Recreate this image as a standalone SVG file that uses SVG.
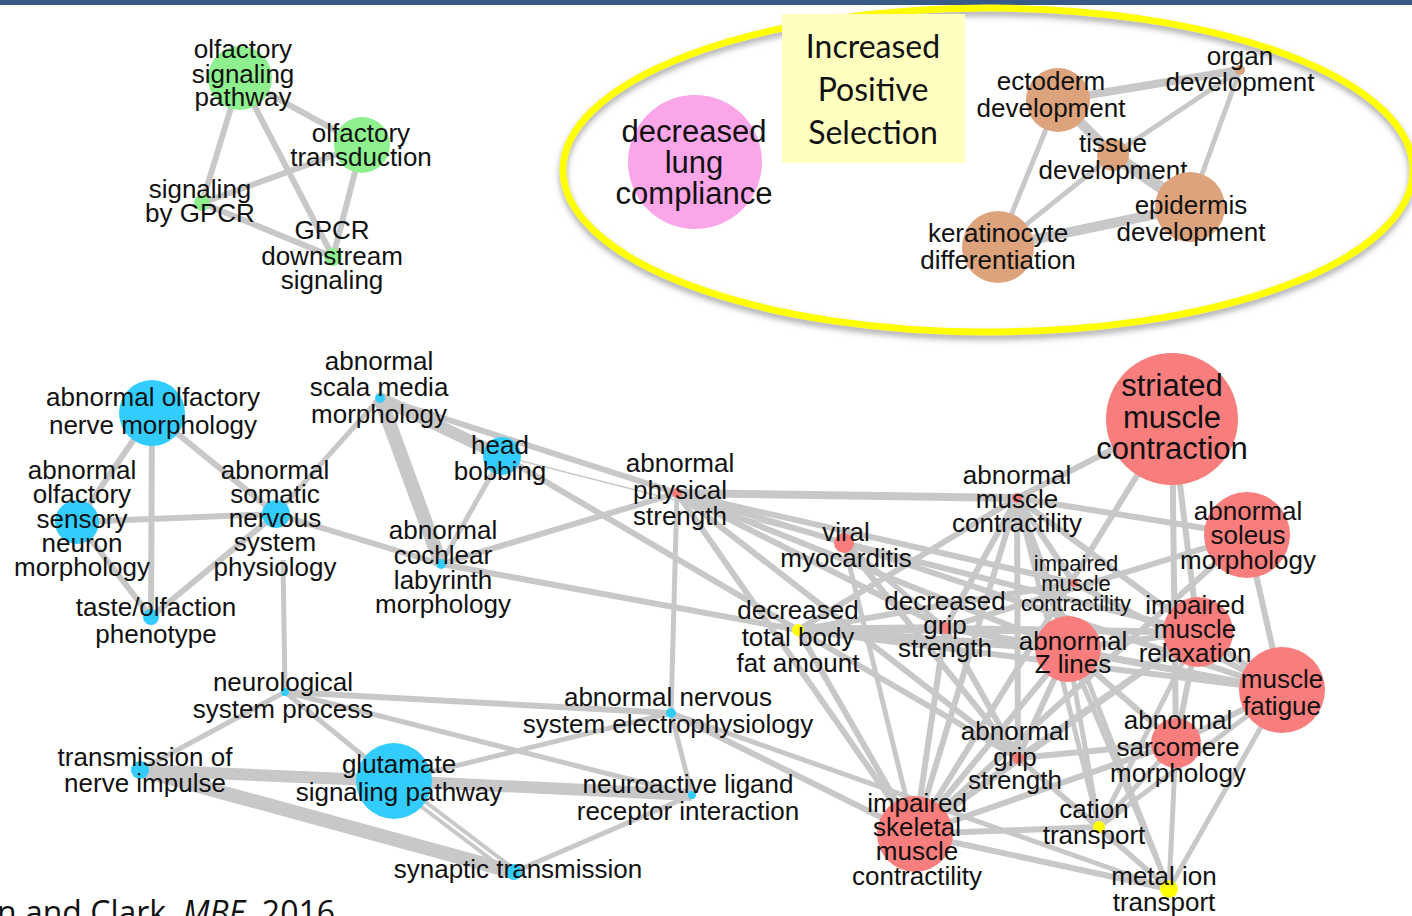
<svg xmlns="http://www.w3.org/2000/svg" width="1412" height="916" viewBox="0 0 1412 916">
<defs>
<filter id="sh" x="-10%" y="-10%" width="120%" height="125%">
<feDropShadow dx="0" dy="4" stdDeviation="3" flood-color="#808080" flood-opacity="0.7"/>
</filter>
</defs>
<style>
.e{stroke:#c8c8c8;stroke-width:6;fill:none}
.w4{stroke-width:4}.w5{stroke-width:5}.w8{stroke-width:8}.w10{stroke-width:10}.w12{stroke-width:12}.w14{stroke-width:14}.thin{stroke-width:1.5}
.t{font-family:"Liberation Sans",Arial,Helvetica,sans-serif;font-size:26px;fill:#111;text-anchor:middle}
.big{font-size:31px}.sm{font-size:22px}
.g{fill:#8ef08e}.b{fill:#33ccff}.r{fill:#f87d7d}.y{fill:#ffff00}.o{fill:#dca37c}.p{fill:#fca6ea}
.cal{font-family:Lato,"Open Sans",sans-serif;fill:#111}
</style>
<rect x="0" y="0" width="1412" height="5" fill="#375a87"/>
<g id="highlight">
<ellipse cx="988" cy="170" rx="425" ry="162" fill="none" stroke="#ffff00" stroke-width="7" filter="url(#sh)"/>
<rect x="782" y="14" width="183" height="149" fill="#ffffc0"/>
<text class="cal" font-size="32" text-anchor="middle"><tspan x="873" y="58">Increased</tspan><tspan x="873" y="101">Positive</tspan><tspan x="873" y="144">Selection</tspan></text>
</g>
<g id="connectors">
<line class="e" x1="240" y1="78" x2="362" y2="145"/>
<line class="e" x1="240" y1="78" x2="202" y2="203"/>
<line class="e" x1="240" y1="78" x2="333" y2="257"/>
<line class="e" x1="362" y1="145" x2="202" y2="203"/>
<line class="e" x1="362" y1="145" x2="333" y2="257"/>
<line class="e" x1="202" y1="203" x2="333" y2="257"/>
<line class="e w8" x1="1058" y1="100" x2="1240" y2="70"/>
<line class="e w10" x1="1058" y1="100" x2="1113" y2="155"/>
<line class="e w5" x1="1058" y1="100" x2="998" y2="247"/>
<line class="e w5" x1="1113" y1="155" x2="1240" y2="70"/>
<line class="e w5" x1="1113" y1="155" x2="998" y2="247"/>
<line class="e w12" x1="1113" y1="155" x2="1190" y2="207"/>
<line class="e w5" x1="1240" y1="70" x2="1190" y2="207"/>
<line class="e w10" x1="998" y1="247" x2="1190" y2="207"/>
<line class="e" x1="152" y1="413" x2="77" y2="522"/>
<line class="e" x1="152" y1="413" x2="151" y2="617"/>
<line class="e" x1="152" y1="413" x2="276" y2="514"/>
<line class="e" x1="77" y1="522" x2="276" y2="514"/>
<line class="e" x1="77" y1="522" x2="151" y2="617"/>
<line class="e" x1="276" y1="514" x2="151" y2="617"/>
<line class="e w5" x1="276" y1="514" x2="380" y2="398"/>
<line class="e w5" x1="283" y1="560" x2="285" y2="692"/>
<line class="e" x1="276" y1="514" x2="441" y2="564"/>
<line class="e w12" x1="380" y1="398" x2="502" y2="456"/>
<line class="e w14" x1="380" y1="398" x2="441" y2="564"/>
<line class="e" x1="380" y1="398" x2="677" y2="493"/>
<line class="e w5" x1="502" y1="456" x2="441" y2="564"/>
<line class="e" x1="502" y1="456" x2="798" y2="630"/>
<line class="e thin" x1="502" y1="456" x2="844" y2="543"/>
<line class="e" x1="441" y1="564" x2="677" y2="493"/>
<line class="e" x1="441" y1="564" x2="798" y2="630"/>
<line class="e w5" x1="285" y1="692" x2="140" y2="770"/>
<line class="e w5" x1="285" y1="692" x2="394" y2="781"/>
<line class="e" x1="285" y1="692" x2="671" y2="713"/>
<line class="e w5" x1="285" y1="692" x2="692" y2="795"/>
<line class="e w12" x1="140" y1="770" x2="394" y2="781"/>
<line class="e w14" x1="140" y1="770" x2="514" y2="872"/>
<line class="e w4" x1="398" y1="781" x2="518" y2="872"/>
<line class="e w4" x1="390" y1="783" x2="509" y2="873"/>
<line class="e w12" x1="394" y1="781" x2="692" y2="795"/>
<line class="e w5" x1="394" y1="781" x2="671" y2="713"/>
<line class="e w5" x1="671" y1="713" x2="692" y2="795"/>
<line class="e w5" x1="692" y1="795" x2="514" y2="872"/>
<line class="e w5" x1="677" y1="493" x2="671" y2="713"/>
<line class="e" x1="671" y1="713" x2="915" y2="834"/>
<line class="e w5" x1="671" y1="713" x2="1169" y2="889"/>
<line class="e w8" x1="677" y1="493" x2="1017" y2="498"/>
<line class="e" x1="677" y1="493" x2="844" y2="543"/>
<line class="e" x1="677" y1="493" x2="1074" y2="583"/>
<line class="e" x1="677" y1="493" x2="1068" y2="649"/>
<line class="e" x1="677" y1="493" x2="945" y2="628"/>
<line class="e" x1="677" y1="493" x2="1018" y2="758"/>
<line class="e" x1="677" y1="493" x2="915" y2="834"/>
<line class="e w5" x1="844" y1="543" x2="945" y2="628"/>
<line class="e" x1="844" y1="543" x2="1198" y2="632"/>
<line class="e" x1="844" y1="543" x2="1018" y2="758"/>
<line class="e w5" x1="844" y1="543" x2="915" y2="834"/>
<line class="e" x1="844" y1="543" x2="1282" y2="690"/>
<line class="e" x1="798" y1="630" x2="1017" y2="498"/>
<line class="e w8" x1="798" y1="630" x2="945" y2="628"/>
<line class="e w8" x1="798" y1="630" x2="1068" y2="649"/>
<line class="e" x1="798" y1="630" x2="1198" y2="632"/>
<line class="e" x1="798" y1="630" x2="1282" y2="690"/>
<line class="e" x1="798" y1="630" x2="915" y2="834"/>
<line class="e" x1="798" y1="630" x2="1018" y2="758"/>
<line class="e" x1="798" y1="630" x2="1074" y2="583"/>
<line class="e" x1="945" y1="628" x2="1017" y2="498"/>
<line class="e" x1="945" y1="628" x2="1068" y2="649"/>
<line class="e" x1="945" y1="628" x2="1198" y2="632"/>
<line class="e" x1="945" y1="628" x2="915" y2="834"/>
<line class="e" x1="945" y1="628" x2="1018" y2="758"/>
<line class="e" x1="945" y1="628" x2="1282" y2="690"/>
<line class="e" x1="1017" y1="498" x2="1172" y2="419"/>
<line class="e" x1="1017" y1="498" x2="1247" y2="535"/>
<line class="e" x1="1017" y1="498" x2="1074" y2="583"/>
<line class="e" x1="1017" y1="498" x2="1068" y2="649"/>
<line class="e" x1="1017" y1="498" x2="1018" y2="758"/>
<line class="e" x1="1017" y1="498" x2="915" y2="834"/>
<line class="e" x1="1017" y1="498" x2="1198" y2="632"/>
<line class="e w5" x1="1017" y1="498" x2="1099" y2="827"/>
<line class="e w5" x1="1017" y1="498" x2="1169" y2="889"/>
<line class="e" x1="1172" y1="419" x2="915" y2="834"/>
<line class="e" x1="1172" y1="419" x2="1198" y2="632"/>
<line class="e" x1="1172" y1="419" x2="1176" y2="743"/>
<line class="e" x1="1247" y1="535" x2="1282" y2="690"/>
<line class="e" x1="1247" y1="535" x2="945" y2="628"/>
<line class="e" x1="1247" y1="535" x2="915" y2="834"/>
<line class="e" x1="1068" y1="649" x2="1198" y2="632"/>
<line class="e" x1="1068" y1="649" x2="1282" y2="690"/>
<line class="e" x1="1068" y1="649" x2="1176" y2="743"/>
<line class="e" x1="1068" y1="649" x2="1018" y2="758"/>
<line class="e" x1="1068" y1="649" x2="915" y2="834"/>
<line class="e w5" x1="1068" y1="649" x2="1099" y2="827"/>
<line class="e w5" x1="1068" y1="649" x2="1169" y2="889"/>
<line class="e" x1="1198" y1="632" x2="1282" y2="690"/>
<line class="e" x1="1198" y1="632" x2="1176" y2="743"/>
<line class="e" x1="1198" y1="632" x2="915" y2="834"/>
<line class="e" x1="1198" y1="632" x2="1018" y2="758"/>
<line class="e w5" x1="1198" y1="632" x2="1099" y2="827"/>
<line class="e" x1="1282" y1="690" x2="1176" y2="743"/>
<line class="e w5" x1="1282" y1="690" x2="1169" y2="889"/>
<line class="e w5" x1="1282" y1="690" x2="1099" y2="827"/>
<line class="e" x1="1074" y1="583" x2="1282" y2="690"/>
<line class="e w5" x1="1176" y1="743" x2="1169" y2="889"/>
<line class="e w5" x1="1176" y1="743" x2="1099" y2="827"/>
<line class="e" x1="1176" y1="743" x2="915" y2="834"/>
<line class="e" x1="1176" y1="743" x2="1018" y2="758"/>
<line class="e" x1="1018" y1="758" x2="915" y2="834"/>
<line class="e w5" x1="1018" y1="758" x2="1099" y2="827"/>
<line class="e w5" x1="1018" y1="758" x2="1169" y2="889"/>
<line class="e" x1="915" y1="834" x2="1099" y2="827"/>
<line class="e" x1="915" y1="834" x2="1169" y2="889"/>
<line class="e w5" x1="1099" y1="827" x2="1169" y2="889"/>
</g>
<g id="n-osp"><circle class="g" cx="240" cy="78" r="32"/><text class="t"><tspan x="243" y="58">olfactory</tspan><tspan x="243" y="83">signaling</tspan><tspan x="243" y="106">pathway</tspan></text></g>
<g id="n-ot"><circle class="g" cx="362" cy="145" r="28"/><text class="t"><tspan x="361" y="142">olfactory</tspan><tspan x="361" y="166">transduction</tspan></text></g>
<g id="n-sgpcr"><circle class="g" cx="202" cy="203" r="8"/><text class="t"><tspan x="200" y="198">signaling</tspan><tspan x="200" y="222">by GPCR</tspan></text></g>
<g id="n-gds"><circle class="g" cx="333" cy="257" r="9"/><text class="t"><tspan x="332" y="239">GPCR</tspan><tspan x="332" y="265">downstream</tspan><tspan x="332" y="289">signaling</tspan></text></g>
<g id="n-dlc"><circle class="p" cx="695" cy="162" r="67"/><text class="t big"><tspan x="694" y="142">decreased</tspan><tspan x="694" y="173">lung</tspan><tspan x="694" y="204">compliance</tspan></text></g>
<g id="n-ecto"><circle class="o" cx="1058" cy="100" r="32"/><text class="t"><tspan x="1051" y="90">ectoderm</tspan><tspan x="1051" y="117">development</tspan></text></g>
<g id="n-organ"><circle class="o" cx="1240" cy="70" r="5"/><text class="t"><tspan x="1240" y="65">organ</tspan><tspan x="1240" y="91">development</tspan></text></g>
<g id="n-tissue"><circle class="o" cx="1113" cy="155" r="16"/><text class="t"><tspan x="1113" y="152">tissue</tspan><tspan x="1113" y="179">development</tspan></text></g>
<g id="n-epi"><circle class="o" cx="1190" cy="207" r="35"/><text class="t"><tspan x="1191" y="214">epidermis</tspan><tspan x="1191" y="241">development</tspan></text></g>
<g id="n-kera"><circle class="o" cx="998" cy="247" r="36"/><text class="t"><tspan x="998" y="242">keratinocyte</tspan><tspan x="998" y="269">differentiation</tspan></text></g>
<g id="n-aonm"><circle class="b" cx="152" cy="413" r="33"/><text class="t"><tspan x="153" y="406">abnormal olfactory</tspan><tspan x="153" y="434">nerve morphology</tspan></text></g>
<g id="n-aosnm"><circle class="b" cx="77" cy="522" r="22"/><text class="t"><tspan x="82" y="479">abnormal</tspan><tspan x="82" y="503">olfactory</tspan><tspan x="82" y="528">sensory</tspan><tspan x="82" y="552">neuron</tspan><tspan x="82" y="576">morphology</tspan></text></g>
<g id="n-asnsp"><circle class="b" cx="276" cy="514" r="14"/><text class="t"><tspan x="275" y="479">abnormal</tspan><tspan x="275" y="503">somatic</tspan><tspan x="275" y="527">nervous</tspan><tspan x="275" y="551">system</tspan><tspan x="275" y="576">physiology</tspan></text></g>
<g id="n-top"><circle class="b" cx="151" cy="617" r="8"/><text class="t"><tspan x="156" y="616">taste/olfaction</tspan><tspan x="156" y="643">phenotype</tspan></text></g>
<g id="n-asmm"><circle class="b" cx="380" cy="398" r="5"/><text class="t"><tspan x="379" y="370">abnormal</tspan><tspan x="379" y="396">scala media</tspan><tspan x="379" y="423">morphology</tspan></text></g>
<g id="n-hb"><circle class="b" cx="502" cy="456" r="19"/><text class="t"><tspan x="500" y="454">head</tspan><tspan x="500" y="480">bobbing</tspan></text></g>
<g id="n-aclm"><circle class="b" cx="441" cy="564" r="5"/><text class="t"><tspan x="443" y="539">abnormal</tspan><tspan x="443" y="564">cochlear</tspan><tspan x="443" y="589">labyrinth</tspan><tspan x="443" y="613">morphology</tspan></text></g>
<g id="n-nsp"><circle class="b" cx="285" cy="692" r="4"/><text class="t"><tspan x="283" y="691">neurological</tspan><tspan x="283" y="718">system process</tspan></text></g>
<g id="n-ansep"><circle class="b" cx="671" cy="713" r="5"/><text class="t"><tspan x="668" y="706">abnormal nervous</tspan><tspan x="668" y="733">system electrophysiology</tspan></text></g>
<g id="n-tni"><circle class="b" cx="140" cy="770" r="9"/><text class="t"><tspan x="145" y="766">transmission of</tspan><tspan x="145" y="792">nerve impulse</tspan></text></g>
<g id="n-gsp"><circle class="b" cx="394" cy="781" r="38"/><text class="t"><tspan x="399" y="773">glutamate</tspan><tspan x="399" y="801">signaling pathway</tspan></text></g>
<g id="n-nlri"><circle class="b" cx="692" cy="795" r="4"/><text class="t"><tspan x="688" y="793">neuroactive ligand</tspan><tspan x="688" y="820">receptor interaction</tspan></text></g>
<g id="n-st"><circle class="b" cx="514" cy="872" r="8"/><text class="t"><tspan x="518" y="878">synaptic transmission</tspan></text></g>
<g id="n-smc"><circle class="r" cx="1172" cy="419" r="66"/><text class="t big"><tspan x="1172" y="396">striated</tspan><tspan x="1172" y="428">muscle</tspan><tspan x="1172" y="459">contraction</tspan></text></g>
<g id="n-aps"><circle class="r" cx="677" cy="493" r="5"/><text class="t"><tspan x="680" y="472">abnormal</tspan><tspan x="680" y="499">physical</tspan><tspan x="680" y="525">strength</tspan></text></g>
<g id="n-amc"><circle class="r" cx="1017" cy="498" r="5"/><text class="t"><tspan x="1017" y="484">abnormal</tspan><tspan x="1017" y="508">muscle</tspan><tspan x="1017" y="532">contractility</tspan></text></g>
<g id="n-aso"><circle class="r" cx="1247" cy="535" r="43"/><text class="t"><tspan x="1248" y="520">abnormal</tspan><tspan x="1248" y="544">soleus</tspan><tspan x="1248" y="569">morphology</tspan></text></g>
<g id="n-vm"><circle class="r" cx="844" cy="543" r="10"/><text class="t"><tspan x="846" y="541">viral</tspan><tspan x="846" y="567">myocarditis</tspan></text></g>
<g id="n-imc"><circle class="r" cx="1074" cy="583" r="4"/><text class="t sm"><tspan x="1076" y="571">impaired</tspan><tspan x="1076" y="591">muscle</tspan><tspan x="1076" y="611">contractility</tspan></text></g>
<g id="n-dtbfa"><circle class="y" cx="798" cy="630" r="6"/><text class="t"><tspan x="798" y="619">decreased</tspan><tspan x="798" y="646">total body</tspan><tspan x="798" y="672">fat amount</tspan></text></g>
<g id="n-dgs"><circle class="r" cx="945" cy="628" r="6"/><text class="t"><tspan x="945" y="610">decreased</tspan><tspan x="945" y="634">grip</tspan><tspan x="945" y="657">strength</tspan></text></g>
<g id="n-azl"><circle class="r" cx="1068" cy="649" r="33"/><text class="t"><tspan x="1073" y="650">abnormal</tspan><tspan x="1073" y="673">Z lines</tspan></text></g>
<g id="n-imr"><circle class="r" cx="1198" cy="632" r="35"/><text class="t"><tspan x="1195" y="614">impaired</tspan><tspan x="1195" y="638">muscle</tspan><tspan x="1195" y="662">relaxation</tspan></text></g>
<g id="n-mf"><circle class="r" cx="1282" cy="690" r="43"/><text class="t"><tspan x="1282" y="688">muscle</tspan><tspan x="1282" y="715">fatigue</tspan></text></g>
<g id="n-ags"><circle class="r" cx="1018" cy="758" r="6"/><text class="t"><tspan x="1015" y="740">abnormal</tspan><tspan x="1015" y="766">grip</tspan><tspan x="1015" y="789">strength</tspan></text></g>
<g id="n-asm"><circle class="r" cx="1176" cy="743" r="25"/><text class="t"><tspan x="1178" y="729">abnormal</tspan><tspan x="1178" y="756">sarcomere</tspan><tspan x="1178" y="782">morphology</tspan></text></g>
<g id="n-iskm"><circle class="r" cx="915" cy="834" r="38"/><text class="t"><tspan x="917" y="812">impaired</tspan><tspan x="917" y="836">skeletal</tspan><tspan x="917" y="860">muscle</tspan><tspan x="917" y="885">contractility</tspan></text></g>
<g id="n-ct"><circle class="y" cx="1099" cy="827" r="6"/><text class="t"><tspan x="1094" y="818">cation</tspan><tspan x="1094" y="844">transport</tspan></text></g>
<g id="n-mit"><circle class="y" cx="1169" cy="889" r="9"/><text class="t"><tspan x="1164" y="885">metal ion</tspan><tspan x="1164" y="911">transport</tspan></text></g>
<text font-family="'Open Sans',Lato,sans-serif" fill="#111" font-size="32" x="-3" y="924">n and Clark, <tspan font-style="italic">MBE</tspan>, 2016</text>
</svg>
